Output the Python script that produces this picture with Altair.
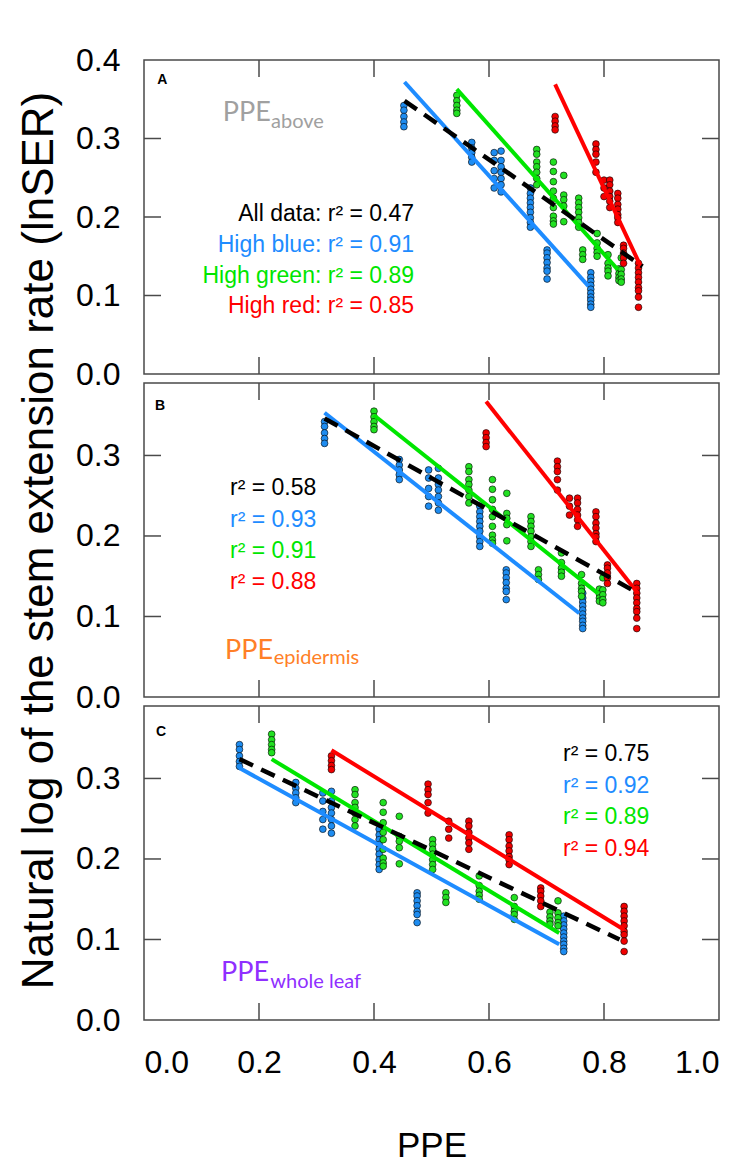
import altair as alt
import pandas as pd

# ---------------- data ----------------
PANELS = ["A", "B", "C"]

# lnSER replicates of each treatment (identical in every panel)
blue_y = [
    [0.342, 0.336, 0.328, 0.321, 0.315],
    [0.295, 0.288, 0.282, 0.276, 0.270],
    [0.282, 0.272, 0.259, 0.249, 0.237],
    [0.284, 0.272, 0.264, 0.257, 0.249, 0.241, 0.232],
    [0.237, 0.230, 0.224, 0.218, 0.212, 0.206, 0.199, 0.193, 0.187],
    [0.158, 0.154, 0.148, 0.142, 0.135, 0.131, 0.121],
    [0.129, 0.123, 0.118, 0.113, 0.108, 0.103, 0.098, 0.094, 0.089, 0.085],
]
green_y = [
    [0.355, 0.348, 0.342, 0.336, 0.332],
    [0.286, 0.280, 0.270, 0.264, 0.257, 0.249, 0.241],
    [0.270, 0.258, 0.245, 0.233, 0.224, 0.212, 0.201, 0.195, 0.191],
    [0.253, 0.228, 0.222, 0.214, 0.194],
    [0.224, 0.218, 0.212, 0.206, 0.199, 0.193, 0.187],
    [0.158, 0.152, 0.146],
    [0.179, 0.167, 0.160, 0.155, 0.150],
    [0.152, 0.141, 0.135, 0.131, 0.125],
    [0.134, 0.128, 0.123, 0.119],
    [0.148, 0.133, 0.127, 0.121, 0.117],
]
red_y = [
    [0.328, 0.322, 0.316, 0.311],
    [0.293, 0.286, 0.280, 0.270, 0.257],
    [0.247, 0.237, 0.226],
    [0.247, 0.241, 0.233, 0.226, 0.220, 0.212],
    [0.230, 0.224, 0.216, 0.210, 0.203, 0.199, 0.193],
    [0.164, 0.160, 0.154, 0.148, 0.141],
    [0.141, 0.135, 0.129, 0.123, 0.117, 0.110, 0.106, 0.098, 0.085],
]

# PPE of each treatment in each panel
blue_x = {
    "A": [0.452, 0.570, 0.609, 0.621, 0.672, 0.701, 0.777],
    "B": [0.314, 0.444, 0.495, 0.512, 0.584, 0.630, 0.763],
    "C": [0.166, 0.264, 0.311, 0.326, 0.409, 0.475, 0.730],
}
green_x = {
    "A": [0.544, 0.683, 0.712, 0.730, 0.756, 0.763, 0.788, 0.807, 0.826, 0.830],
    "B": [0.400, 0.565, 0.606, 0.631, 0.673, 0.686, 0.726, 0.761, 0.792, 0.798],
    "C": [0.222, 0.367, 0.416, 0.444, 0.502, 0.525, 0.583, 0.644, 0.706, 0.720],
}
red_x = {
    "A": [0.715, 0.786, 0.800, 0.810, 0.824, 0.834, 0.860],
    "B": [0.595, 0.719, 0.740, 0.754, 0.786, 0.806, 0.857],
    "C": [0.326, 0.494, 0.530, 0.565, 0.635, 0.690, 0.835],
}

# fitted lines: groups and their end points
fit_groups = ["all", "blue", "green", "red"]
fit_x0 = {"A": [0.453, 0.453, 0.544, 0.715], "B": [0.314, 0.314, 0.400, 0.595], "C": [0.166, 0.166, 0.222, 0.326]}
fit_y0 = {"A": [0.348, 0.372, 0.363, 0.369], "B": [0.346, 0.353, 0.350, 0.367], "C": [0.324, 0.313, 0.324, 0.335]}
fit_x1 = {"A": [0.867, 0.773, 0.824, 0.864], "B": [0.859, 0.757, 0.789, 0.859], "C": [0.827, 0.722, 0.722, 0.835]}
fit_y1 = {"A": [0.137, 0.112, 0.133, 0.137], "B": [0.129, 0.104, 0.129, 0.129], "C": [0.100, 0.094, 0.108, 0.112]}

r2_values = {"A": [0.47, 0.91, 0.89, 0.85], "B": [0.58, 0.93, 0.91, 0.88], "C": [0.75, 0.92, 0.89, 0.94]}
r2_names = ["All data", "High blue", "High green", "High red"]
ppe_sub = {"A": "above", "B": "epidermis", "C": "whole leaf"}
y_max = {"A": 0.4, "B": 0.39, "C": 0.39}
y_label_vals = {"A": [0.0, 0.1, 0.2, 0.3, 0.4], "B": [0.0, 0.1, 0.2, 0.3], "C": [0.0, 0.1, 0.2, 0.3]}
y_tick_vals = [0.1, 0.2, 0.3]
x_label_vals = [0.0, 0.2, 0.4, 0.6, 0.8, 1.0]
x_tick_vals = [0.2, 0.4, 0.6, 0.8]

# ---------------- styling ----------------
W, H = 575, 314
TICK = 17
FRAME = "#4a4a4a"
COL = {"all": "#000000", "blue": "#1E8CFF", "green": "#00E600", "red": "#FF0000"}
PT_FILL = {"blue": "#1E8CF0", "green": "#22E022", "red": "#F00000"}
SUB_COL = {"A": "#A0A0A0", "B": "#FF7F27", "C": "#8F2FFF"}
SANS = "Liberation Sans"
HUM = "Lato"
YTITLE = "Natural log of the stem extension rate (lnSER)"

# annotation placement (data units)
LETTER_POS = {"A": (0.023, 0.375), "B": (0.019, 0.362), "C": (0.021, 0.358)}
PPE_POS = {"A": (0.137, 0.322, 0.221, 0.3136), "B": (0.141, 0.0478, 0.2255, 0.0404), "C": (0.134, 0.0482, 0.2197, 0.040)}
R2_POS = {"A": (0.4696, 0.1947, 0.0391, "right"), "B": (0.1496, 0.2507, 0.0390, "left"), "C": (0.7287, 0.3215, 0.0393, "left")}


def points_df(p):
    rows = []
    for g, ylist, xd in (("blue", blue_y, blue_x), ("green", green_y, green_x), ("red", red_y, red_x)):
        for i, ys in enumerate(ylist):
            for y in ys:
                rows.append({"ppe": xd[p][i], "lnser": y, "grp": g})
    return pd.DataFrame(rows)


def fits_df(p):
    rows = []
    for i, g in enumerate(fit_groups):
        rows.append({"ppe": fit_x0[p][i], "lnser": fit_y0[p][i], "grp": g})
        rows.append({"ppe": fit_x1[p][i], "lnser": fit_y1[p][i], "grp": g})
    return pd.DataFrame(rows)


def make_panel(p):
    xs = alt.Scale(domain=[0, 1], nice=False, zero=False)
    ys = alt.Scale(domain=[0, y_max[p]], nice=False, zero=False)

    if p == "C":
        xaxis = alt.Axis(values=x_label_vals, format=".1f", ticks=False, domain=False,
                         grid=False, labelFontSize=32, labelFont=SANS, labelColor="black",
                         labelPadding=27, titleFontSize=35, titleFont=SANS,
                         titleFontWeight="normal", titleColor="black", titlePadding=50)
        xtitle = "PPE"
    else:
        xaxis = None
        xtitle = ""
    yaxis = alt.Axis(values=y_label_vals[p], format=".1f", ticks=False, domain=False, grid=False,
                     labelFontSize=32, labelFont=SANS, labelColor="black", labelPadding=24,
                     titleFontSize=44, titleFont=SANS, titleFontWeight="normal", titleColor="black",
                     titlePadding=14)
    ytitle = YTITLE if p == "B" else ""

    def X(field):
        return alt.X(field, scale=xs, axis=xaxis, title=xtitle)

    def Y(field):
        return alt.Y(field, scale=ys, axis=yaxis, title=ytitle)

    def XD(v):
        return alt.XDatum(v, type="quantitative", scale=xs, axis=xaxis, title=xtitle)

    def YD(v):
        return alt.YDatum(v, type="quantitative", scale=ys, axis=yaxis, title=ytitle)

    pts = alt.Chart(points_df(p)).mark_circle(size=46, stroke="black", strokeWidth=0.6, opacity=1).encode(
        x=X("ppe:Q"), y=Y("lnser:Q"),
        fill=alt.Fill("grp:N", scale=alt.Scale(domain=list(PT_FILL), range=list(PT_FILL.values())), legend=None),
    )

    fd = fits_df(p)
    col_lines = alt.Chart(fd).transform_filter(alt.datum.grp != "all").mark_line(strokeWidth=4).encode(
        x=X("ppe:Q"), y=Y("lnser:Q"),
        color=alt.Color("grp:N", scale=alt.Scale(domain=["blue", "green", "red"],
                                                 range=[COL["blue"], COL["green"], COL["red"]]), legend=None),
        detail="grp:N",
    )
    all_line = alt.Chart(fd).transform_filter(alt.datum.grp == "all").mark_line(
        strokeWidth=4.5, color="black", strokeDash=[15, 9]).encode(x=X("ppe:Q"), y=Y("lnser:Q"))

    ytk = pd.DataFrame({"lnser": y_tick_vals})
    xtk = pd.DataFrame({"ppe": x_tick_vals})
    tick_style = dict(color=FRAME, strokeWidth=1.5)
    left_t = alt.Chart(ytk).mark_rule(**tick_style).encode(
        y=Y("lnser:Q"), x=alt.value(0), x2=alt.value(TICK))
    right_t = alt.Chart(ytk).mark_rule(**tick_style).encode(
        y=Y("lnser:Q"), x=alt.value(W - TICK), x2=alt.value(W))
    top_t = alt.Chart(xtk).mark_rule(**tick_style).encode(
        x=X("ppe:Q"), y=alt.value(0), y2=alt.value(TICK))
    bot_t = alt.Chart(xtk).mark_rule(**tick_style).encode(
        x=X("ppe:Q"), y=alt.value(H - TICK), y2=alt.value(H))

    one = pd.DataFrame({"k": [0]})
    lx, ly = LETTER_POS[p]
    letter = alt.Chart(one).mark_text(text=p, font=SANS, fontSize=14, fontWeight="bold",
                                       align="left", baseline="middle", color="black").encode(
        x=XD(lx), y=YD(ly))

    px, py, sx, sy = PPE_POS[p]
    ppe_main = alt.Chart(one).mark_text(text="PPE", font=HUM, fontSize=27, align="left",
                                         baseline="alphabetic", color=SUB_COL[p]).encode(
        x=XD(px), y=YD(py))
    ppe_s = alt.Chart(one).mark_text(text=ppe_sub[p], font=HUM, fontSize=20, align="left",
                                      baseline="alphabetic", color=SUB_COL[p]).encode(
        x=XD(sx), y=YD(sy))

    rx, ry, rdy, ral = R2_POS[p]
    r2_layers = []
    for i, g in enumerate(fit_groups):
        label = f"r\u00b2 = {r2_values[p][i]:.2f}"
        if p == "A":
            label = f"{r2_names[i]}: " + label
        r2_layers.append(
            alt.Chart(one).mark_text(text=label, font=SANS, fontSize=23, align=ral,
                                     baseline="alphabetic", color=COL[g]).encode(
                x=XD(rx), y=YD(ry - i * rdy)))

    return alt.layer(pts, col_lines, all_line, left_t, right_t, top_t, bot_t,
                     letter, ppe_main, ppe_s, *r2_layers).properties(width=W, height=H)


chart = alt.vconcat(*[make_panel(p) for p in PANELS], spacing=9, bounds="flush").properties(
    padding={"left": 8, "top": 35, "right": 5, "bottom": 5}
).configure_view(stroke=FRAME, strokeWidth=1.5)

chart.save("out.html", embed_options={"renderer": "svg", "actions": False})
